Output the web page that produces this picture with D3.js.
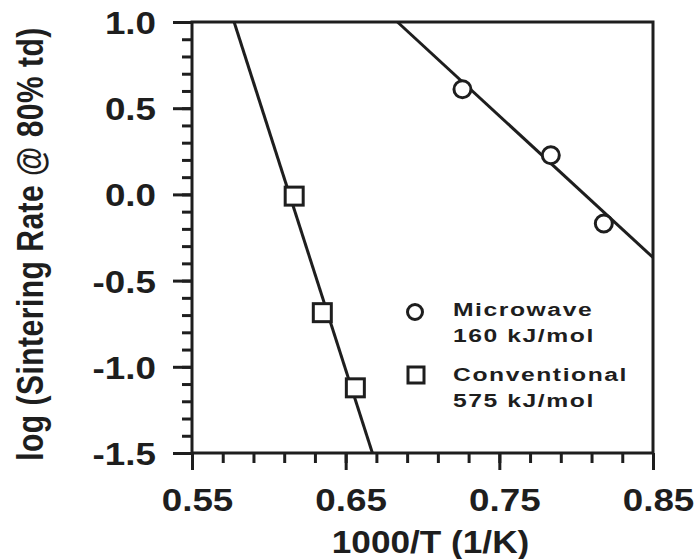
<!DOCTYPE html>
<html>
<head>
<meta charset="utf-8">
<script src="https://cdn.jsdelivr.net/npm/d3@7/dist/d3.min.js"></script>
<style>
  html, body { margin: 0; padding: 0; background: #fff; }
  svg text { font-family: "Liberation Sans", Arial, sans-serif; font-weight: bold; fill: #1e1e1e; }
</style>
</head>
<body>
<script>
/* Data */
const microwaveX = [0.726, 0.7835, 0.818];
const microwaveY = [0.61, 0.227, -0.169];
const conventionalX = [0.6165, 0.6348, 0.6563];
const conventionalY = [-0.01, -0.686, -1.122];

/* Fitted lines (end points) */
const microwaveFit = [[0.6837, 1.0], [0.85, -0.366]];
const conventionalFit = [[0.5774, 1.0], [0.6674, -1.5]];

/* Ticks */
const xMajor = [0.55, 0.65, 0.75, 0.85];
const yMajor = [-1.5, -1.0, -0.5, 0.0, 0.5, 1.0];
const xMinor = d3.range(0.55, 0.8601, 0.02);
const yMinor = d3.range(-1.5, 1.001, 0.1);

/* Legend */
const legendNames = ["Microwave", "Conventional"];
const legendEnergy = ["160 kJ/mol", "575 kJ/mol"];

/* Layout */
const W = 697, H = 559;
const X0 = 192, X1 = 653, Y0 = 453, Y1 = 22;
const INK = "#1e1e1e";
const SX = 1.15; // the scan is stretched sideways

const svg = d3.select("body").append("svg")
  .attr("width", W)
  .attr("height", H);

const x = d3.scaleLinear().domain([0.55, 0.85]).range([X0, X1]);
const y = d3.scaleLinear().domain([-1.5, 1.0]).range([Y0, Y1]);

/* Minor ticks */
svg.append("g")
  .attr("transform", "translate(0," + Y0 + ")")
  .call(d3.axisBottom(x).tickValues(xMinor).tickSize(10).tickFormat(""))
  .call(g => g.select(".domain").remove())
  .call(g => g.selectAll("line").attr("stroke", INK).attr("stroke-width", 3));

svg.append("g")
  .attr("transform", "translate(" + X0 + ",0)")
  .call(d3.axisLeft(y).tickValues(yMinor).tickSize(10).tickFormat(""))
  .call(g => g.select(".domain").remove())
  .call(g => g.selectAll("line").attr("stroke", INK).attr("stroke-width", 3));

/* Major ticks + labels */
svg.append("g")
  .attr("transform", "translate(0," + Y0 + ")")
  .call(d3.axisBottom(x).tickValues(xMajor).tickSize(17).tickPadding(18).tickFormat(d3.format(".2f")))
  .call(g => g.select(".domain").remove())
  .call(g => g.selectAll("line").attr("stroke", INK).attr("stroke-width", 3))
  .call(g => g.selectAll("text")
    .attr("font-size", 32).attr("x", 5 / SX)
    .attr("transform", "scale(" + SX + ",1)")
    .style("font-family", "'Liberation Sans', Arial, sans-serif"));

svg.append("g")
  .attr("transform", "translate(" + X0 + ",0)")
  .call(d3.axisLeft(y).tickValues(yMajor).tickSize(19).tickFormat(d3.format(".1f")))
  .call(g => g.select(".domain").remove())
  .call(g => g.selectAll("line").attr("stroke", INK).attr("stroke-width", 3))
  .call(g => g.selectAll("text")
    .attr("font-size", 32).attr("dy", "0.36em")
    .attr("x", -36 / SX)
    .attr("transform", "scale(" + SX + ",1)")
    .text(d => d3.format(".1f")(d).replace("−", "-"))
    .style("font-family", "'Liberation Sans', Arial, sans-serif"));

/* Frame */
svg.append("rect")
  .attr("x", X0).attr("y", Y1)
  .attr("width", X1 - X0).attr("height", Y0 - Y1)
  .attr("fill", "none").attr("stroke", INK).attr("stroke-width", 3);

/* Axis titles */
svg.append("text")
  .attr("transform", "translate(" + ((X0 + X1) / 2 + 8) + ",553) scale(1.1,1)")
  .attr("text-anchor", "middle")
  .attr("font-size", 32)
  .text("1000/T (1/K)");

svg.append("text")
  .attr("transform", "translate(43,244) rotate(-90) scale(1,1.2)")
  .attr("text-anchor", "middle")
  .attr("font-size", 30)
  .attr("letter-spacing", 0.5)
  .text("log (Sintering Rate @ 80% td)");

/* Fit lines */
const line = d3.line().x(d => x(d[0])).y(d => y(d[1]));
[microwaveFit, conventionalFit].forEach(f => {
  svg.append("path")
    .attr("d", line(f))
    .attr("fill", "none")
    .attr("stroke", INK)
    .attr("stroke-width", 3);
});

/* Points */
svg.selectAll(".mw")
  .data(microwaveX.map((v, i) => [v, microwaveY[i]]))
  .enter().append("circle")
  .attr("class", "mw")
  .attr("cx", d => x(d[0]))
  .attr("cy", d => y(d[1]))
  .attr("r", 8.5)
  .attr("fill", "#fff")
  .attr("stroke", INK)
  .attr("stroke-width", 3);

svg.selectAll(".cv")
  .data(conventionalX.map((v, i) => [v, conventionalY[i]]))
  .enter().append("rect")
  .attr("class", "cv")
  .attr("x", d => x(d[0]) - 9)
  .attr("y", d => y(d[1]) - 9)
  .attr("width", 18)
  .attr("height", 18)
  .attr("fill", "#fff")
  .attr("stroke", INK)
  .attr("stroke-width", 3);

/* Legend */
const legend = svg.append("g");
legend.append("circle")
  .attr("cx", 415).attr("cy", 312).attr("r", 7.5)
  .attr("fill", "#fff").attr("stroke", INK).attr("stroke-width", 3);
legend.append("rect")
  .attr("x", 408).attr("y", 367).attr("width", 16).attr("height", 16)
  .attr("fill", "#fff").attr("stroke", INK).attr("stroke-width", 3);

legendNames.forEach((n, i) => {
  const base = i === 0 ? 316 : 381;
  [n, legendEnergy[i]].forEach((t, j) => {
    legend.append("text")
      .attr("transform", "translate(453," + (base + 26 * j) + ") scale(1.3,1)")
      .attr("font-size", 19).attr("letter-spacing", 1.2)
      .text(t);
  });
});
</script>
</body>
</html>
